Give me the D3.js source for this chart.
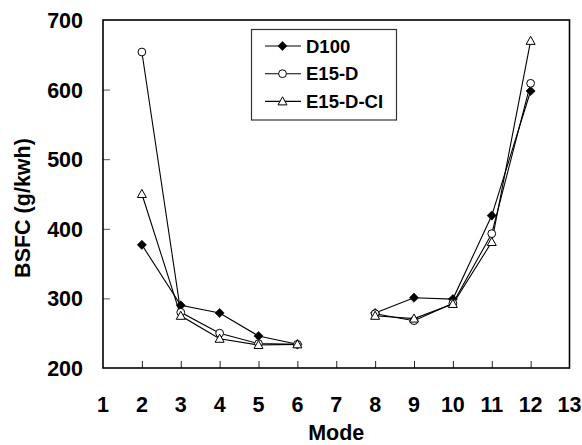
<!DOCTYPE html>
<html>
<head>
<meta charset="utf-8">
<script src="https://cdn.jsdelivr.net/npm/d3@7"></script>
<style>
  html, body { margin: 0; padding: 0; background: #fff; }
  svg text { font-family: Arial, "Liberation Sans", sans-serif; font-weight: bold; fill: #000; }
</style>
</head>
<body>
<svg id="chart" width="582" height="445"></svg>
<script>
// Engine test modes (mode 7 was not measured)
const modes = [2, 3, 4, 5, 6, 7, 8, 9, 10, 11, 12];
// Brake specific fuel consumption, g/kWh
const d100    = [377, 290, 279, 246, 234, null, 279, 301, 299, 419, 598];
const e15d    = [654, 280, 250, 235, 234, null, 278, 268, 293, 393, 609];
const e15dci  = [450, 275, 242, 233, 234, null, 275, 271, 292, 381, 670];
const seriesNames = ["D100", "E15-D", "E15-D-CI"];
const xTicks = [1, 2, 3, 4, 5, 6, 7, 8, 9, 10, 11, 12, 13];
const yTicks = [200, 300, 400, 500, 600, 700];

const svg = d3.select("#chart");
const plotLeft = 103, plotRight = 569.5, plotTop = 20, plotBottom = 368;

const x = d3.scaleLinear().domain([1, 13]).range([plotLeft, plotRight]);
const y = d3.scaleLinear().domain([200, 700]).range([plotBottom, plotTop]);

const series = [
  { name: seriesNames[0], values: d100, marker: "diamond" },
  { name: seriesNames[1], values: e15d, marker: "circle" },
  { name: seriesNames[2], values: e15dci, marker: "triangle" }
];

// Tick marks pointing into the plot
const xAxis = d3.axisBottom(x).tickValues(xTicks.slice(1, -1)).tickSizeInner(-7).tickSizeOuter(0).tickFormat("");
svg.append("g").attr("transform", `translate(0,${plotBottom})`).call(xAxis)
  .call(g => g.select(".domain").remove())
  .call(g => g.selectAll("line").attr("stroke", "#222").attr("stroke-width", 1));

const yAxis = d3.axisLeft(y).tickValues(yTicks.slice(1, -1)).tickSizeInner(-7).tickSizeOuter(0).tickFormat("");
svg.append("g").attr("transform", `translate(${plotLeft},0)`).call(yAxis)
  .call(g => g.select(".domain").remove())
  .call(g => g.selectAll("line").attr("stroke", "#555").attr("stroke-width", 1));

// Plot frame
svg.append("rect")
  .attr("x", plotLeft).attr("y", plotTop)
  .attr("width", plotRight - plotLeft).attr("height", plotBottom - plotTop)
  .attr("fill", "none").attr("stroke", "#000").attr("stroke-width", 1.6);

// Tick labels
svg.append("g").selectAll("text").data(xTicks).join("text")
  .attr("x", d => x(d)).attr("y", 412)
  .attr("text-anchor", "middle").attr("font-size", 21.5)
  .text(d => d);

svg.append("g").selectAll("text").data(yTicks).join("text")
  .attr("x", 83).attr("y", d => y(d) + 8)
  .attr("text-anchor", "end").attr("font-size", 21.5)
  .text(d => d);

// Axis titles
svg.append("text")
  .attr("x", x(7)).attr("y", 440)
  .attr("text-anchor", "middle").attr("font-size", 21.5)
  .text("Mode");

svg.append("text")
  .attr("transform", "translate(30,208) rotate(-90)")
  .attr("text-anchor", "middle").attr("font-size", 21.5)
  .text("BSFC (g/kwh)");

// Marker drawing helper
function drawMarker(sel, type) {
  if (type === "diamond") {
    sel.append("path").attr("d", "M0,-4.6L4.6,0L0,4.6L-4.6,0Z")
      .attr("fill", "#000").attr("stroke", "#000").attr("stroke-width", 0.6);
  } else if (type === "circle") {
    sel.append("circle").attr("r", 3.9)
      .attr("fill", "#fff").attr("stroke", "#000").attr("stroke-width", 1);
  } else {
    sel.append("path").attr("d", "M0,-4.6L4.5,3.5L-4.5,3.5Z")
      .attr("fill", "#fff").attr("stroke", "#000").attr("stroke-width", 1);
  }
}

const line = d3.line()
  .defined(d => d.v !== null)
  .x(d => x(d.m))
  .y(d => y(d.v));

series.forEach(s => {
  const pts = modes.map((m, i) => ({ m, v: s.values[i] }));
  svg.append("path").datum(pts)
    .attr("d", line)
    .attr("fill", "none").attr("stroke", "#000").attr("stroke-width", 1.1);
});

// Markers drawn after the lines so they sit on top
series.forEach(s => {
  const pts = modes.map((m, i) => ({ m, v: s.values[i] })).filter(d => d.v !== null);
  svg.append("g").selectAll("g").data(pts).join("g")
    .attr("transform", d => `translate(${x(d.m)},${y(d.v)})`)
    .each(function () { drawMarker(d3.select(this), s.marker); });
});

// Legend
const legend = svg.append("g");
legend.append("rect")
  .attr("x", 251.5).attr("y", 29.5).attr("width", 145).attr("height", 90.5)
  .attr("fill", "#fff").attr("stroke", "#333").attr("stroke-width", 1.2);
series.forEach((s, i) => {
  const ly = 46 + i * 27.7;
  legend.append("line")
    .attr("x1", 265).attr("x2", 301).attr("y1", ly).attr("y2", ly)
    .attr("stroke", "#000").attr("stroke-width", 1.1);
  const g = legend.append("g").attr("transform", `translate(282.5,${ly})`);
  drawMarker(g, s.marker);
  legend.append("text")
    .attr("x", 306).attr("y", ly + 6.5)
    .attr("font-size", 18.5)
    .text(s.name);
});
</script>
</body>
</html>
